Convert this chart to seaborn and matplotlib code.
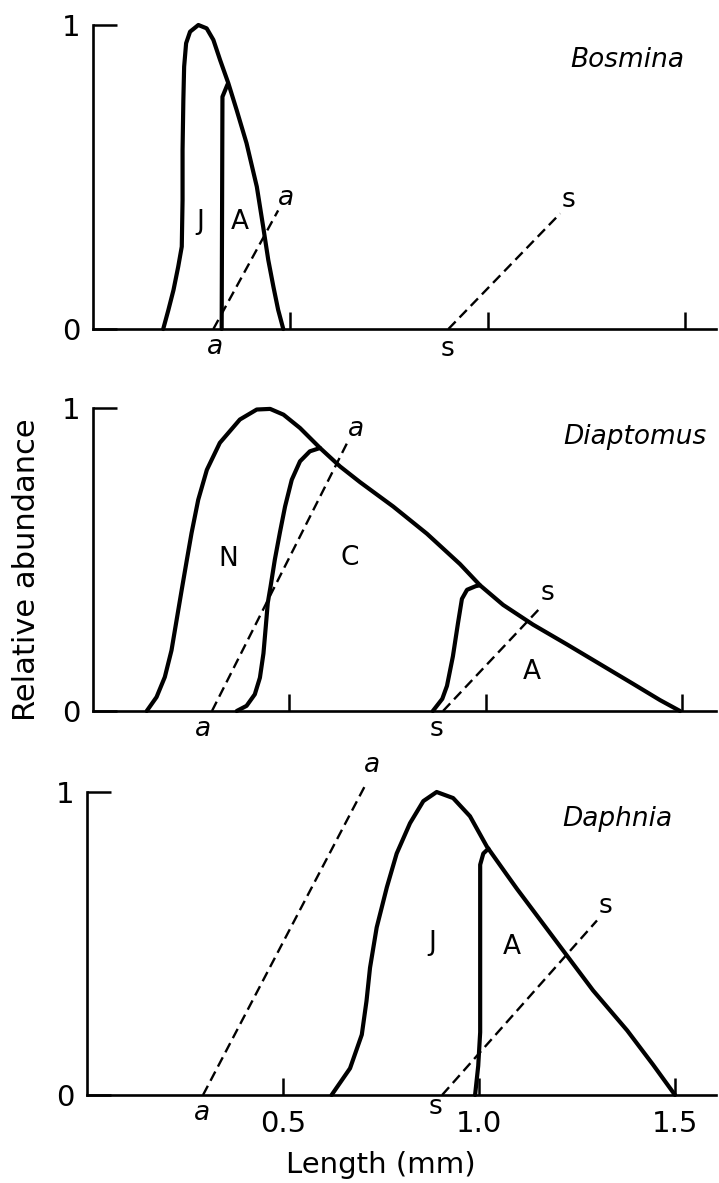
import numpy as np
import pandas as pd
import matplotlib
matplotlib.use("Agg")
import matplotlib.pyplot as plt
import seaborn as sns

sns.set_style("white")
plt.rcParams['font.family'] = ['DejaVu Sans']
plt.rcParams['text.color'] = 'black'
plt.rcParams['xtick.color'] = 'black'
plt.rcParams['ytick.color'] = 'black'
plt.rcParams['axes.labelcolor'] = 'black'

# ---------------- data (length in mm, relative abundance) ----------------
# Bosmina
bos_env_x = [0.179, 0.192, 0.205, 0.217, 0.226, 0.228, 0.228, 0.230, 0.232, 0.237, 0.247,
             0.268, 0.289, 0.306, 0.323, 0.344, 0.365, 0.390, 0.416, 0.432, 0.445, 0.458,
             0.470, 0.483]
bos_env_y = [0.0, 0.062, 0.128, 0.205, 0.271, 0.424, 0.589, 0.753, 0.863, 0.940, 0.978,
             1.0, 0.989, 0.951, 0.885, 0.808, 0.720, 0.611, 0.468, 0.337, 0.227, 0.139,
             0.063, 0.0]
bos_adult_x = [0.327, 0.329, 0.342]
bos_adult_y = [0.0, 0.764, 0.805]
bos_a_x = [0.306, 0.470]
bos_a_y = [0.0, 0.39]
bos_s_x = [0.901, 1.184]
bos_s_y = [0.0, 0.38]

# Diaptomus
dia_env_x = [0.138, 0.163, 0.184, 0.201, 0.214, 0.227, 0.240, 0.252, 0.269, 0.291, 0.324,
             0.375, 0.418, 0.452, 0.486, 0.528, 0.579, 0.630, 0.681, 0.765, 0.851, 0.935,
             0.986, 1.045, 1.121, 1.207, 1.291, 1.375, 1.444, 1.495]
dia_env_y = [0.0, 0.046, 0.112, 0.20, 0.30, 0.40, 0.498, 0.587, 0.697, 0.796, 0.885,
             0.962, 0.995, 0.997, 0.978, 0.934, 0.868, 0.807, 0.755, 0.675, 0.585, 0.485,
             0.415, 0.35, 0.285, 0.22, 0.155, 0.09, 0.036, 0.0]
dia_cop_x = [0.367, 0.392, 0.413, 0.426, 0.435, 0.441, 0.446, 0.453, 0.464, 0.477, 0.490,
             0.507, 0.528, 0.553, 0.579]
dia_cop_y = [0.0, 0.017, 0.055, 0.11, 0.19, 0.28, 0.357, 0.41, 0.50, 0.59, 0.675,
             0.763, 0.824, 0.857, 0.868]
dia_adult_x = [0.866, 0.890, 0.902, 0.917, 0.930, 0.940, 0.953, 0.975, 0.986]
dia_adult_y = [0.0, 0.04, 0.083, 0.18, 0.29, 0.37, 0.40, 0.412, 0.415]
dia_a_x = [0.304, 0.650]
dia_a_y = [0.0, 0.89]
dia_s_x = [0.892, 1.139]
dia_s_y = [0.0, 0.34]

# Daphnia
dap_env_x = [0.624, 0.671, 0.701, 0.713, 0.722, 0.739, 0.765, 0.790, 0.824, 0.858, 0.892,
             0.934, 0.977, 1.020, 1.071, 1.097, 1.207, 1.291, 1.378, 1.444, 1.500]
dap_env_y = [0.0, 0.088, 0.199, 0.31, 0.42, 0.553, 0.686, 0.797, 0.897, 0.97, 1.0,
             0.98, 0.92, 0.82, 0.727, 0.68, 0.49, 0.345, 0.213, 0.10, 0.0]
dap_adult_x = [0.990, 0.998, 1.003, 1.003, 1.011, 1.024]
dap_adult_y = [0.0, 0.096, 0.207, 0.76, 0.797, 0.813]
dap_a_x = [0.296, 0.709]
dap_a_y = [0.0, 1.02]
dap_s_x = [0.906, 1.301]
dap_s_y = [0.0, 0.576]

species = ["Bosmina", "Diaptomus", "Daphnia"]
x_ticks = [0.5, 1.0, 1.5]
x_tick_labels = ["0.5", "1.0", "1.5"]
y_ticks = [0, 1]
y_tick_labels = ["0", "1"]

# ---------------- figure ----------------
W, H = 719, 1183
fig = plt.figure(figsize=(W / 100, H / 100), dpi=100)

layout = [
    dict(left=92.5, base=329, unit=304, scale=395),
    dict(left=92.5, base=711, unit=303, scale=393),
    dict(left=87.0, base=1095, unit=303, scale=392),
]
RIGHT = 716
TOP = 1.05

solid_kw = dict(color="black", linewidth=3.0, sort=False, estimator=None,
                clip_on=False, solid_capstyle="round", solid_joinstyle="round")
dash_kw = dict(color="black", linewidth=1.7, sort=False, estimator=None,
               clip_on=False, linestyle=(0, (4.4, 2.4)))

axes = []
for i, L in enumerate(layout):
    ax = fig.add_axes([L["left"] / W, (H - L["base"]) / H,
                       (RIGHT - L["left"]) / W, TOP * L["unit"] / H])
    ax.set_xlim(0, (RIGHT - L["left"]) / L["scale"])
    ax.set_ylim(0, TOP)
    for s in ["top", "right"]:
        ax.spines[s].set_visible(False)
    for s in ["left", "bottom"]:
        ax.spines[s].set_linewidth(1.9)
        ax.spines[s].set_color("black")
    ax.spines["left"].set_bounds(0, 1)
    ax.set_xticks(x_ticks)
    ax.set_xticklabels(x_tick_labels if i == 2 else [])
    ax.set_yticks(y_ticks)
    ax.set_yticklabels(y_tick_labels)
    ax.tick_params(axis="x", which="major", bottom=True, top=False, direction="in",
                   length=12, width=1.8, pad=11, labelsize=21, color="black",
                   labelcolor="black")
    ax.tick_params(axis="y", which="major", left=True, right=False, direction="in",
                   length=17, width=1.8, pad=9, labelsize=21, color="black",
                   labelcolor="black")
    ax.set_xlabel("")
    ax.set_ylabel("")
    ax.patch.set_alpha(0)
    axes.append(ax)

def line(ax, xs, ys, kw):
    sns.lineplot(x=xs, y=ys, ax=ax, **kw)

lab_kw = dict(ha="center", va="center", fontsize=19, color="black")
sm_a = dict(ha="center", va="center", fontsize=19, style="italic", color="black")
sm_s = dict(ha="center", va="center", fontsize=19, color="black")
sp_kw = dict(ha="center", va="center", fontsize=19, style="italic", color="black")

# Bosmina
ax = axes[0]
line(ax, bos_env_x, bos_env_y, solid_kw)
line(ax, bos_adult_x, bos_adult_y, solid_kw)
line(ax, bos_a_x, bos_a_y, dash_kw)
line(ax, bos_s_x, bos_s_y, dash_kw)
ax.text(0.272, 0.353, "J", **lab_kw)
ax.text(0.373, 0.353, "A", **lab_kw)
ax.text(0.49, 0.43, "a", **sm_a)
ax.text(0.31, -0.06, "a", **sm_a)
ax.text(1.205, 0.425, "s", **sm_s)
ax.text(0.90, -0.065, "s", **sm_s)
ax.text(1.353, 0.885, species[0], **sp_kw)

# Diaptomus
ax = axes[1]
line(ax, dia_env_x, dia_env_y, solid_kw)
line(ax, dia_cop_x, dia_cop_y, solid_kw)
line(ax, dia_adult_x, dia_adult_y, solid_kw)
line(ax, dia_a_x, dia_a_y, dash_kw)
line(ax, dia_s_x, dia_s_y, dash_kw)
ax.text(0.345, 0.50, "N", **lab_kw)
ax.text(0.655, 0.505, "C", **lab_kw)
ax.text(1.118, 0.13, "A", **lab_kw)
ax.text(0.670, 0.93, "a", **sm_a)
ax.text(0.28, -0.06, "a", **sm_a)
ax.text(1.158, 0.39, "s", **sm_s)
ax.text(0.876, -0.06, "s", **sm_s)
ax.text(1.38, 0.905, species[1], **sp_kw)

# Daphnia
ax = axes[2]
line(ax, dap_env_x, dap_env_y, solid_kw)
line(ax, dap_adult_x, dap_adult_y, solid_kw)
line(ax, dap_a_x, dap_a_y, dash_kw)
line(ax, dap_s_x, dap_s_y, dash_kw)
ax.text(0.88, 0.50, "J", **lab_kw)
ax.text(1.084, 0.49, "A", **lab_kw)
ax.text(0.727, 1.09, "a", **sm_a)
ax.text(0.293, -0.058, "a", **sm_a)
ax.text(1.322, 0.625, "s", **sm_s)
ax.text(0.89, -0.04, "s", **sm_s)
ax.text(1.352, 0.91, species[2], **sp_kw)

fig.text(27 / W, 1 - 570 / H, "Relative abundance", rotation=90,
         ha="center", va="center", fontsize=22, color="black")
fig.text(381 / W, 1 - 1165 / H, "Length (mm)", ha="center", va="center",
         fontsize=21, color="black")

fig.savefig("out.png", dpi=100, facecolor="white")
